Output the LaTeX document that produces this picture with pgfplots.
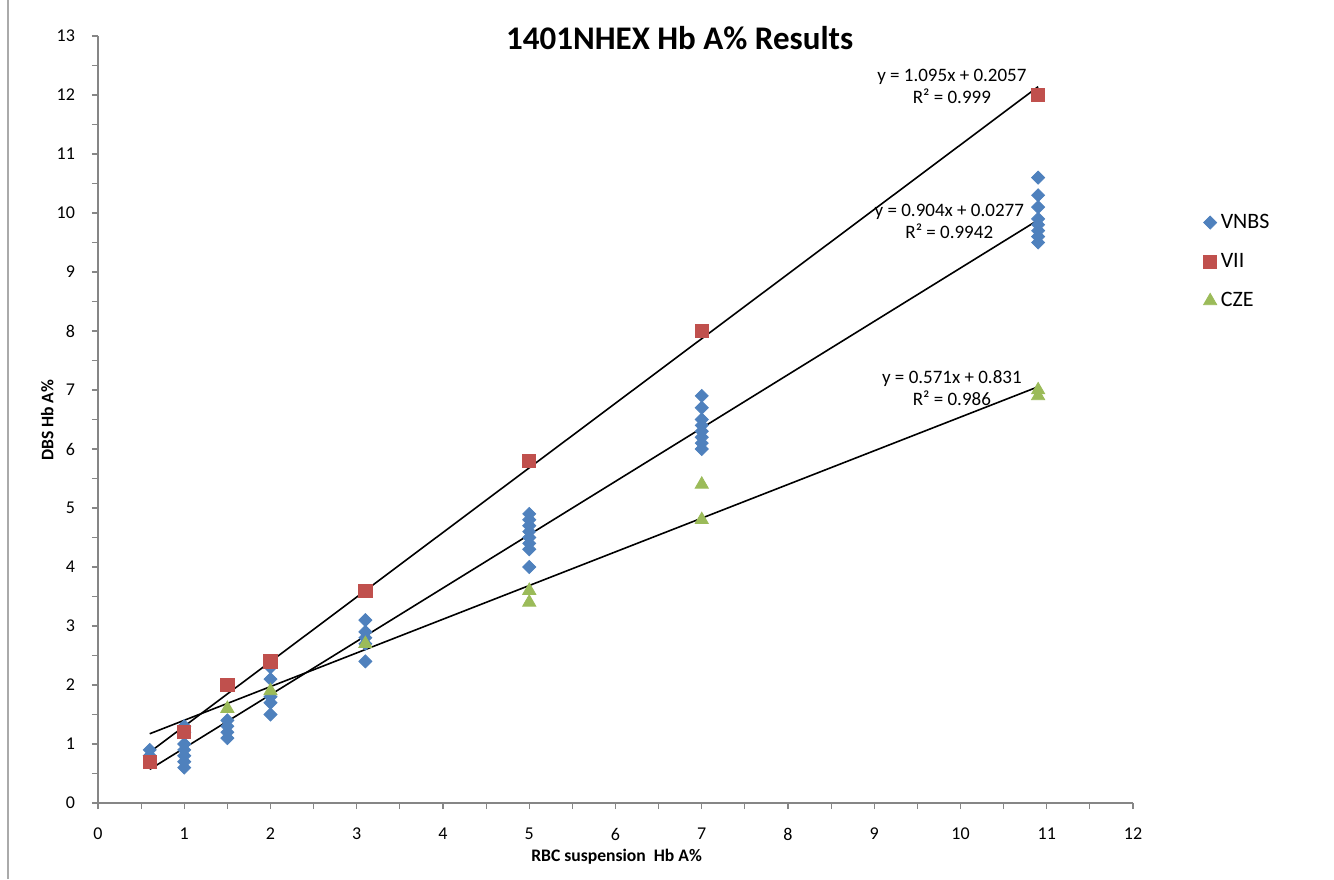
\documentclass[border=0pt]{standalone}
\usepackage{fontspec}
\setmainfont{Carlito}
\usepackage{pgfplots}
\pgfplotsset{compat=1.18}
\definecolor{vnbs}{HTML}{4F81BD}
\definecolor{vii}{HTML}{C0504D}
\definecolor{cze}{HTML}{9BBB59}
\definecolor{axgray}{HTML}{868686}
\begin{document}
\begin{tikzpicture}
\useasboundingbox (-49pt,-38pt) rectangle (618pt,401.5pt);
\draw[axgray!70, line width=0.6pt] (-45pt,-38pt) -- (-45pt,401.5pt);
\begin{axis}[
  at={(0,0)}, anchor=origin,
  scale only axis, width=517.5pt, height=383.5pt,
  xmin=0, xmax=12, ymin=0, ymax=13,
  xtick={0,1,...,12}, ytick={0,1,...,13},
  minor x tick num=1, minor y tick num=1,
  axis lines=left, axis line style={axgray, line width=0.6pt, -},
  tick align=outside, tick style={axgray, line width=0.6pt},
  major tick length=3pt, minor tick length=3pt,
  tick label style={font=\fontsize{9}{10}\selectfont},
  /pgf/number format/assume math mode=true,
  xticklabel style={yshift=-6pt},
  yticklabel style={xshift=-5pt},
  xlabel={\bfseries RBC suspension\ \ Hb A\%},
  ylabel={\bfseries DBS Hb A\%},
  label style={font=\fontsize{8.8}{10}\selectfont},
  xlabel style={at={(axis description cs:0.501,-0.070)}, anchor=center},
  ylabel style={at={(axis description cs:-0.049,0.499)}, anchor=center},
  legend style={draw=none, fill=none, at={(axis description cs:1.062,0.779)}, anchor=north west,
    font=\fontsize{11}{12}\selectfont, row sep=7pt},
  legend cell align=left,
  clip=false,
]
\addplot[only marks, mark=square*, mark options={rotate=45, fill=vnbs, draw=vnbs}, mark size=2.3pt] coordinates {
(0.6,0.9)(0.6,0.8)
(1,1.3)(1,1.2)(1,1.0)(1,0.9)(1,0.8)(1,0.7)(1,0.6)
(1.5,1.4)(1.5,1.3)(1.5,1.2)(1.5,1.1)
(2,2.3)(2,2.1)(2,1.8)(2,1.7)(2,1.5)
(3.1,3.1)(3.1,2.9)(3.1,2.8)(3.1,2.7)(3.1,2.4)
(5,4.9)(5,4.8)(5,4.7)(5,4.6)(5,4.5)(5,4.4)(5,4.3)(5,4.0)
(7,6.9)(7,6.7)(7,6.5)(7,6.4)(7,6.3)(7,6.2)(7,6.1)(7,6.0)
(10.9,10.6)(10.9,10.3)(10.9,10.1)(10.9,9.9)(10.9,9.8)(10.9,9.7)(10.9,9.6)(10.9,9.5)};
\addlegendentry{VNBS}
\addplot[only marks, mark=square*, mark options={fill=vii, draw=vii}, mark size=3.3pt] coordinates {
(0.6,0.7)(1,1.2)(1.5,2.0)(2,2.4)(3.1,3.6)(5,5.8)(7,8.0)(10.9,12.0)};
\addlegendentry{VII}
\addplot[only marks, mark=triangle*, mark options={fill=cze, draw=cze}, mark size=3.8pt] coordinates {
(1.5,1.6)(2,1.9)(3.1,2.7)(5,3.6)(5,3.4)(7,5.4)(7,4.8)(10.9,7.0)(10.9,6.9)};
\addlegendentry{CZE}
% linear trendlines
\addplot[black, line width=0.8pt, forget plot] coordinates {(0.6,0.8627)(10.9,12.1412)};
\addplot[black, line width=0.8pt, forget plot] coordinates {(0.6,0.5701)(10.9,9.8813)};
\addplot[black, line width=0.8pt, forget plot] coordinates {(0.6,1.1736)(10.9,7.0549)};
\begin{scope}[every node/.style={font=\fontsize{9.5}{11}\selectfont, align=center, anchor=center}]
\node at (axis cs:9.90,12.15) {y = 1.095x + 0.2057\\R² = 0.999};
\node at (axis cs:9.87,9.85) {y = 0.904x + 0.0277\\R² = 0.9942};
\node at (axis cs:9.90,7.04) {y = 0.571x + 0.831\\R² = 0.986};
\end{scope}
\node[font=\bfseries\fontsize{16.5}{18}\selectfont] at (axis description cs:0.562,0.997) {1401NHEX Hb A\% Results};
\end{axis}
\end{tikzpicture}
\end{document}
